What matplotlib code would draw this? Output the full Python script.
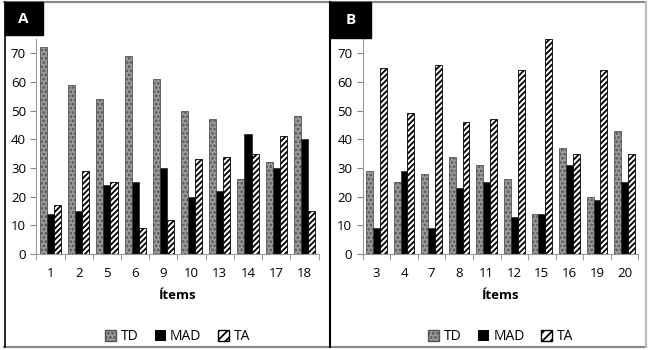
import matplotlib.pyplot as plt
import numpy as np
from matplotlib.patches import Rectangle
from matplotlib.lines import Line2D

# Panel A data
items_a = ['1', '2', '5', '6', '9', '10', '13', '14', '17', '18']
td_a = [72, 59, 54, 69, 61, 50, 47, 26, 32, 48]
mad_a = [14, 15, 24, 25, 30, 20, 22, 42, 30, 40]
ta_a = [17, 29, 25, 9, 12, 33, 34, 35, 41, 15]

# Panel B data
items_b = ['3', '4', '7', '8', '11', '12', '15', '16', '19', '20']
td_b = [29, 25, 28, 34, 31, 26, 14, 37, 20, 43]
mad_b = [9, 29, 9, 23, 25, 13, 14, 31, 19, 25]
ta_b = [65, 49, 66, 46, 47, 64, 75, 35, 64, 35]

plt.rcParams['font.family'] = 'Open Sans'
plt.rcParams['hatch.linewidth'] = 1.3

fig = plt.figure(figsize=(6.5, 3.5), dpi=100)


def panel(rect, items, td, mad, ta, letter, box):
    ax = fig.add_axes(rect)
    x = np.arange(len(items))
    w = 0.25
    ax.bar(x - w, td, w, color='#9a9a9a', edgecolor='#555555',
           hatch='....', linewidth=0.6)
    ax.bar(x, mad, w, color='black', edgecolor='#333333', linewidth=0.6)
    ax.bar(x + w, ta, w, color='white', edgecolor='black',
           hatch='//////', linewidth=0.6)
    ax.set_xlim(-0.5, len(items) - 0.5)
    ax.set_ylim(0, 75)
    ax.set_yticks(range(0, 80, 10))
    ax.set_xticks(x)
    ax.set_xticklabels(items)
    ax.set_xticks(np.arange(len(items) + 1) - 0.5, minor=True)
    ax.tick_params(axis='x', which='major', length=0, labelsize=9.5, pad=9)
    ax.tick_params(axis='x', which='minor', length=4, color='#888888')
    ax.tick_params(axis='y', length=4, labelsize=9.5, color='#888888')
    for s in ['top', 'right']:
        ax.spines[s].set_visible(False)
    for s in ['left', 'bottom']:
        ax.spines[s].set_color('#999999')
    ax.set_xlabel('Ítems', fontweight='bold', fontsize=9.5, labelpad=7)
    # label box
    fig.patches.append(Rectangle((box[0], box[1]), box[2], box[3],
                                 transform=fig.transFigure, color='black', zorder=5))
    fig.text(box[0] + box[2] / 2, box[1] + box[3] / 2, letter, color='white',
             fontweight='bold', fontsize=11, ha='center', va='center', zorder=6)
    # legend
    handles = [Rectangle((0, 0), 1, 1, facecolor='#9a9a9a', edgecolor='#555555', hatch='....'),
               Rectangle((0, 0), 1, 1, facecolor='black'),
               Rectangle((0, 0), 1, 1, facecolor='white', edgecolor='black', hatch='////')]
    ax.legend(handles, ['TD', 'MAD', 'TA'], loc='upper center',
              bbox_to_anchor=(0.5, -0.29), ncol=3, frameon=False,
              fontsize=10, handlelength=0.8, handleheight=0.8,
              handletextpad=0.3, columnspacing=1.2)
    return ax


panel([0.056, 0.274, 0.434, 0.615], items_a, td_a, mad_a, ta_a, 'A',
      (0.007, 0.9, 0.059, 0.094))
panel([0.558, 0.274, 0.424, 0.615], items_b, td_b, mad_b, ta_b, 'B',
      (0.508, 0.891, 0.062, 0.103))

# panel frames
fig.add_artist(Line2D([0.006, 0.994], [0.994, 0.994], color='#888888', lw=1.5))
fig.add_artist(Line2D([0.006, 0.994], [0.008, 0.008], color='#888888', lw=1.5))
fig.add_artist(Line2D([0.007, 0.007], [0.008, 0.994], color='black', lw=1.2))
fig.add_artist(Line2D([0.508, 0.508], [0.008, 0.994], color='black', lw=1.5))
fig.add_artist(Line2D([0.994, 0.994], [0.008, 0.994], color='#bbbbbb', lw=1.5))

fig.savefig('out.png', dpi=100)
